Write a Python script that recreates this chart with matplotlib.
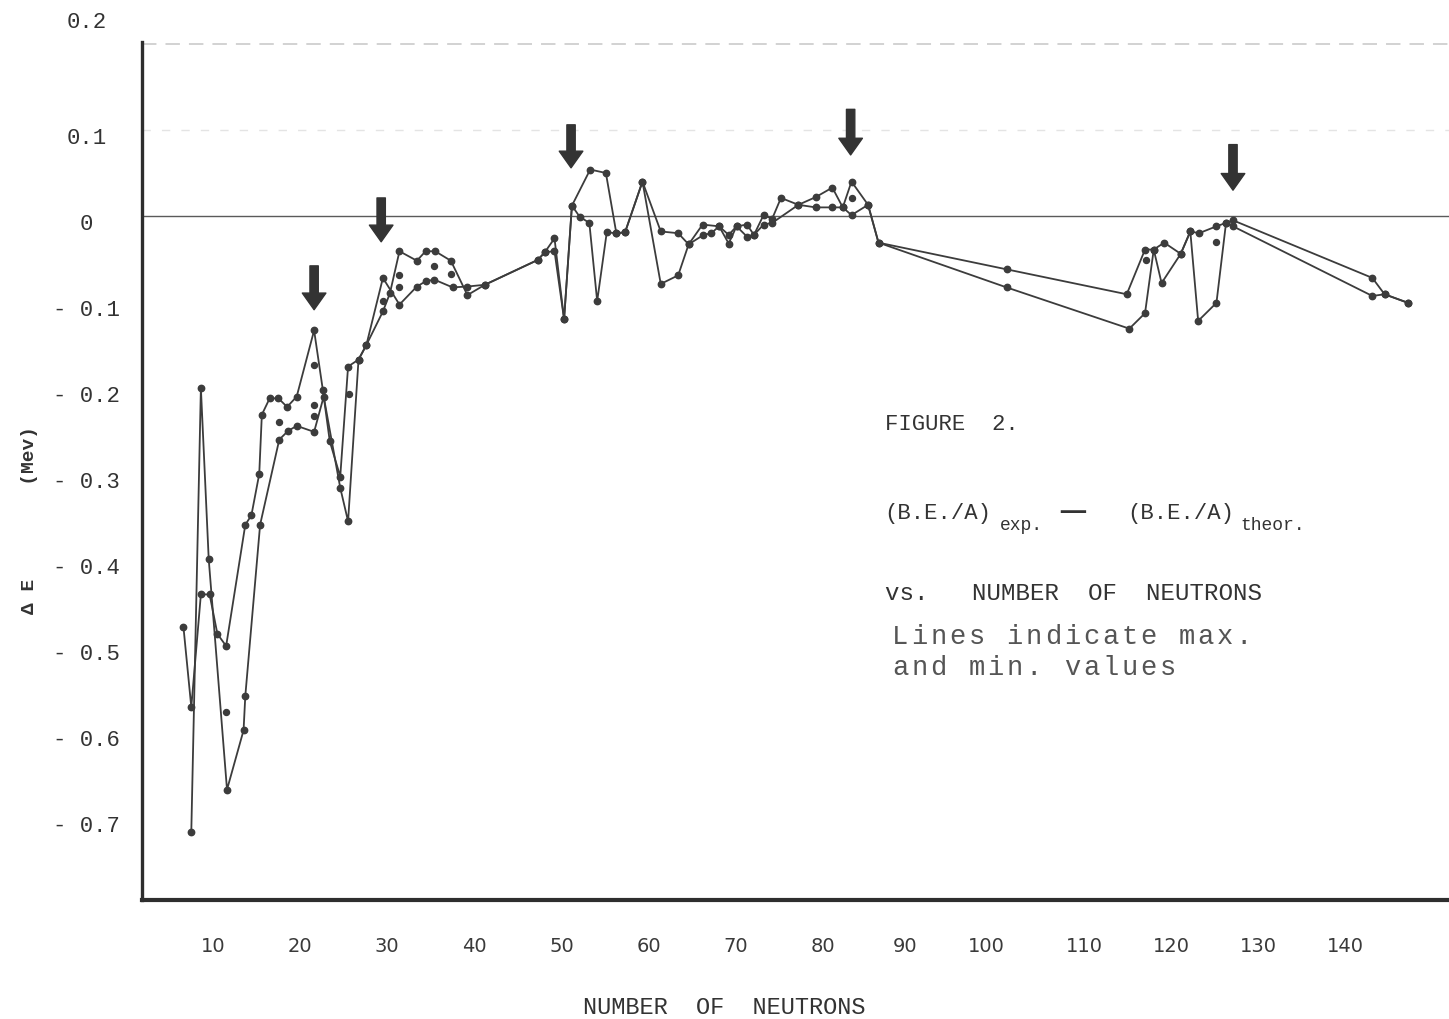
import matplotlib
matplotlib.use("Agg")
import matplotlib.pyplot as plt
from matplotlib.transforms import ScaledTranslation

# ---- data: binding-energy deviation vs. neutron number ----
# bounding curve 1
curve1_n = [6.6, 7.5, 8.6, 9.6, 10.5, 11.5, 13.7, 14.4, 15.3, 15.6, 16.5, 17.5, 18.5, 19.6,
            21.6, 22.6, 23.4, 24.6, 25.5, 26.7, 27.6, 29.5, 30.3, 31.4, 33.4, 34.4, 35.5,
            37.3, 39.2, 41.2, 47.3, 48.1, 49.2, 50.3, 51.2, 53.3, 55.1, 56.3, 57.3, 59.3,
            61.4, 63.4, 64.6, 66.2, 68.1, 69.2, 70.1, 71.3, 72.1, 73.2, 74.2, 75.2, 77.2,
            79.2, 81.1, 82.3, 83.3, 85.2, 86.4, 101.1, 114.9, 117.0, 118.0, 119.2, 121.1,
            122.2, 123.2, 125.2, 126.3, 127.1, 143.1, 144.5, 147.2]
curve1_de = [-0.478, -0.571, -0.440, -0.440, -0.486, -0.500, -0.359, -0.348, -0.300, -0.231,
             -0.212, -0.212, -0.222, -0.210, -0.133, -0.202, -0.262, -0.303, -0.175, -0.167,
             -0.150, -0.111, -0.090, -0.041, -0.052, -0.041, -0.041, -0.052, -0.092, -0.080,
             -0.051, -0.042, -0.026, -0.120, 0.012, 0.054, 0.050, -0.020, -0.019, 0.040,
             -0.018, -0.020, -0.033, -0.010, -0.012, -0.022, -0.012, -0.010, -0.022, 0.001,
             -0.003, 0.021, 0.013, 0.022, 0.033, 0.010, 0.040, 0.013, -0.031, -0.062,
             -0.091, -0.039, -0.039, -0.031, -0.044, -0.018, -0.020, -0.012, -0.008, -0.005,
             -0.072, -0.091, -0.101]

# bounding curve 2
curve2_n = [7.5, 8.6, 9.5, 11.6, 13.5, 13.7, 15.4, 17.6, 18.6, 19.6, 21.6, 22.7, 24.6, 25.5,
            26.7, 27.6, 29.5, 31.4, 33.4, 34.4, 35.4, 37.5, 39.2, 41.2, 47.3, 48.1, 49.2,
            50.3, 51.2, 52.1, 53.2, 54.1, 55.2, 56.3, 57.3, 59.3, 61.4, 63.4, 64.6, 66.3,
            67.2, 68.1, 69.2, 70.1, 71.3, 72.1, 73.2, 74.2, 77.2, 79.2, 81.1, 82.3, 83.3,
            85.2, 86.4, 101.1, 115.2, 117.0, 118.0, 118.9, 121.1, 122.2, 123.1, 125.2,
            126.3, 127.1, 143.1, 144.5, 147.2]
curve2_de = [-0.716, -0.200, -0.399, -0.667, -0.598, -0.558, -0.359, -0.260, -0.250, -0.244,
             -0.251, -0.210, -0.316, -0.355, -0.167, -0.150, -0.072, -0.103, -0.082, -0.076,
             -0.074, -0.083, -0.082, -0.080, -0.051, -0.042, -0.041, -0.120, 0.012, -0.001,
             -0.008, -0.099, -0.019, -0.020, -0.019, 0.040, -0.079, -0.069, -0.033, -0.022,
             -0.020, -0.012, -0.032, -0.012, -0.024, -0.022, -0.010, -0.008, 0.013, 0.010,
             0.010, 0.010, 0.001, 0.013, -0.031, -0.083, -0.131, -0.113, -0.039, -0.078,
             -0.044, -0.018, -0.122, -0.101, -0.008, -0.012, -0.093, -0.091, -0.101]

# intermediate values lying between the two curves
mid_n = [11.5, 17.6, 21.6, 21.6, 21.6, 25.6, 29.5, 31.4, 31.4, 35.4, 37.3, 83.3, 117.1, 125.2]
mid_de = [-0.577, -0.239, -0.173, -0.220, -0.232, -0.207, -0.099, -0.069, -0.082, -0.058,
          -0.068, 0.021, -0.051, -0.030]

# shell-closure arrows: position, tail and tip
arrow_n = [21.6, 29.3, 51.1, 83.2, 127.1]
arrow_tail = [-0.058, 0.021, 0.106, 0.124, 0.083]
arrow_tip = [-0.109, -0.030, 0.056, 0.071, 0.030]

x_ticks = [10, 20, 30, 40, 50, 60, 70, 80, 90, 100, 110, 120, 130, 140]
y_ticks = [0.2, 0.1, 0.0, -0.1, -0.2, -0.3, -0.4, -0.5, -0.6, -0.7]
y_tick_labels = ["0.2", "0.1", "0", "- 0.1", "- 0.2", "- 0.3", "- 0.4", "- 0.5",
                 "- 0.6", "- 0.7"]

# ---- figure ----
W, H = 1449, 1019
fig = plt.figure(figsize=(W / 100, H / 100), dpi=100)
fig.patch.set_facecolor("white")
ax = fig.add_axes([142 / W, 119 / H, 1307 / W, 858 / H])

INK = "#3c3c3c"
TYPE = "Liberation Mono"

ax.set_xlim(1.84, 151.9)
ax.set_ylim(-0.7953, 0.2023)

# faint ruling and zero line
ax.axhline(0.2, color="#cfcfcf", lw=1.3, ls=(0, (8, 5)), zorder=1)
ax.axhline(0.1, color="#e4e4e4", lw=1.0, ls=(0, (6, 8)), zorder=1)
ax.axhline(0.0, color="#5a5a5a", lw=1.0, zorder=2)

line_kw = dict(color=INK, lw=1.3, marker="o", ms=4.6, mfc=INK, mec=INK, zorder=3)
ax.plot(curve1_n, curve1_de, **line_kw)
ax.plot(curve2_n, curve2_de, **line_kw)
ax.plot(mid_n, mid_de, ls="none", marker="o", ms=4.3, color=INK, zorder=3)

for n, t0, t1 in zip(arrow_n, arrow_tail, arrow_tip):
    ax.annotate("", xy=(n, t1), xytext=(n, t0),
                arrowprops=dict(arrowstyle="simple,head_length=0.6,head_width=0.85,tail_width=0.3",
                                mutation_scale=20, color="#333333", shrinkA=0, shrinkB=0),
                zorder=4)

# spines
for side in ("top", "right"):
    ax.spines[side].set_visible(False)
ax.spines["left"].set_linewidth(2.4)
ax.spines["left"].set_color("#2e2e2e")
ax.spines["bottom"].set_linewidth(3.0)
ax.spines["bottom"].set_color("#2e2e2e")

# ticks
ax.set_xticks(x_ticks)
ax.set_xticklabels([str(v) for v in x_ticks], fontsize=14, color="#3a3a3a",
                   family="DejaVu Sans")
ax.tick_params(axis="x", length=0, pad=27)
# hand-lettered labels sit slightly left of their nominal place around 90-100
x_nudge = {90: -0.05, 100: -0.11}
for lbl, val in zip(ax.get_xticklabels(), x_ticks):
    if val in x_nudge:
        lbl.set_transform(lbl.get_transform()
                          + ScaledTranslation(x_nudge[val], 0, fig.dpi_scale_trans))

ax.set_yticks(y_ticks)
ax.set_yticklabels(y_tick_labels, fontsize=16, color="#333333", family=TYPE)
ax.tick_params(axis="y", length=0, pad=40)
for lbl, val in zip(ax.get_yticklabels(), y_ticks):
    lbl.set_horizontalalignment("center")
    dy = 0.24 if val == 0.2 else -0.06
    lbl.set_transform(lbl.get_transform() + ScaledTranslation(0, dy, fig.dpi_scale_trans))

ax.set_xlabel("NUMBER  OF  NEUTRONS", fontsize=17, family=TYPE, color="#333333")
ax.xaxis.set_label_coords((724 - 142) / 1307, (900 - 1007) / 858)
ax.xaxis.label.set_verticalalignment("center")

ax.set_ylabel("Δ E        (Mev)", fontsize=14, family=TYPE, weight="bold", color="#333333")
ax.yaxis.set_label_coords((30 - 142) / 1307, (900 - 520) / 858)
ax.yaxis.label.set_verticalalignment("center")


def put(x, y, s, size, **kw):
    """Place text at pixel position (x from left, y from top)."""
    kw.setdefault("family", TYPE)
    kw.setdefault("color", "#333333")
    return fig.text(x / W, 1 - y / H, s, fontsize=size, va="center", ha="left", **kw)


def typed(x, y, s, pitch, size, **kw):
    """Typewriter line with fixed character pitch (pixels)."""
    for i, ch in enumerate(s):
        if ch != " ":
            put(x + i * pitch, y, ch, size, **kw)


put(885, 425, "FIGURE  2.", 16)
put(884, 513, "(B.E./A)", 16)
put(1000, 525, "exp.", 13)
put(1060, 511, "\u2014", 30)
put(1127, 513, "(B.E./A)", 16)
put(1240, 525, "theor.", 13)
put(885, 593, "vs.   NUMBER  OF  NEUTRONS", 17.4)
typed(892, 637, "Lines indicate max.", 19.1, 19.5, color="#555555")
typed(892, 668, "and min. values", 19.1, 19.5, color="#555555")

fig.savefig("out.png", dpi=100, facecolor="white")
